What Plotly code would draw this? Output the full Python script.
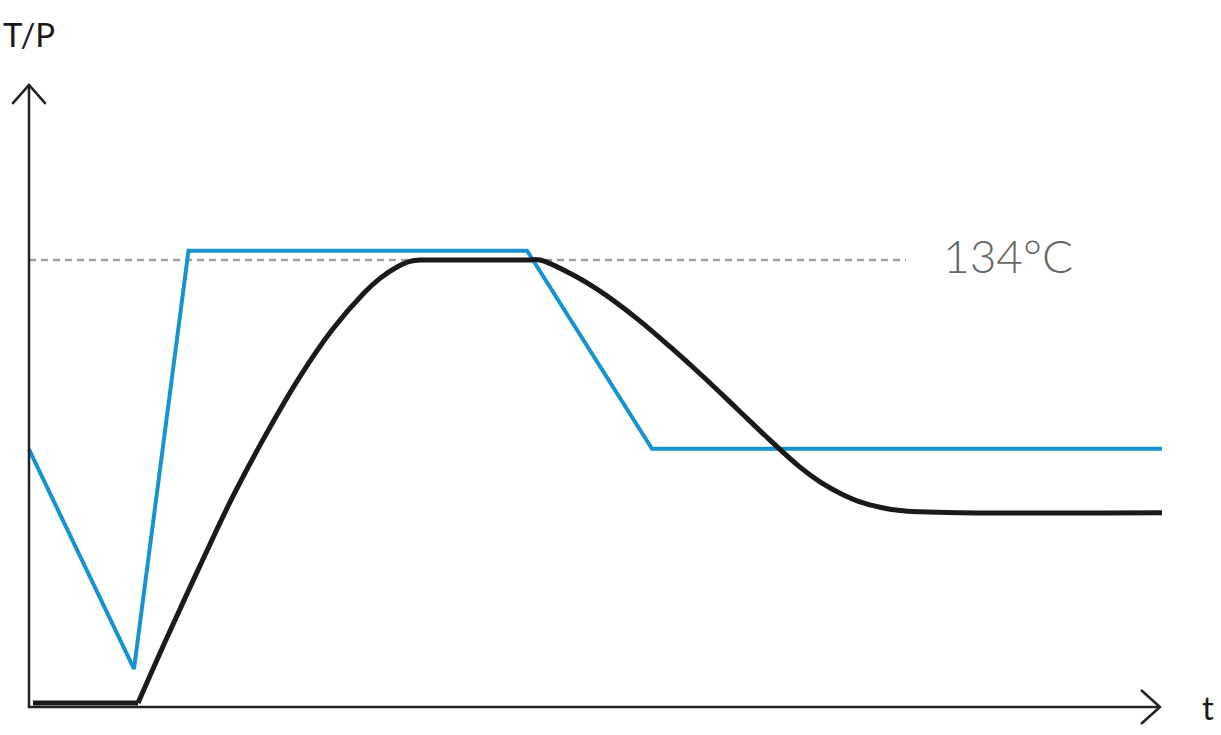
#!/usr/bin/env python3
"""Sterilisation cycle sketch: pressure (blue) and temperature (black) over time."""
import plotly.graph_objects as go

# time axis in arbitrary units, value axis scaled so the hold line sits at 134
PRESSURE_T = [0.0, 10.5, 15.95, 49.8, 62.3, 113.3]
PRESSURE_V = [77.2, 11.4, 136.8, 136.8, 77.4, 77.4]

# first two points are the flat start, the rest is one smooth curve
TEMP_T = [0.4, 10.9, 13.6, 17.0, 20.3, 23.6, 27.0, 30.3, 33.5, 35.1, 36.8, 38.1,
          39.3, 40.5, 49.9, 51.1, 54.1, 57.43, 60.77, 64.1, 67.43, 70.77, 74.1, 77.1,
          79.1, 81.1, 83.1, 85.1, 87.1, 89.1, 93.1, 113.3]
TEMP_V = [1.2, 1.2, 19.5, 41.7, 62.6, 81.2, 98.6, 113.0, 124.1, 128.5, 131.9, 133.6,
          134.0, 134.0, 134.0, 134.0, 130.0, 124.0, 116.5, 108.0, 99.0, 89.5, 80.0, 71.9,
          67.5, 64.1, 61.5, 59.9, 58.9, 58.5, 58.2, 58.2]

HOLD_TEMP = 134
HOLD_LABEL = "134°C"
HOLD_END = 87.7

X_TIP = 113.1
Y_TIP = 186.5

BLUE = "#1793cf"
INK = "#1a1a1a"
FONT = "Lato, 'Open Sans', sans-serif"

fig = go.Figure()

fig.add_trace(go.Scatter(
    x=[0, HOLD_END], y=[HOLD_TEMP, HOLD_TEMP], mode="lines",
    line={"color": "#a0a0a0", "width": 2.5, "dash": "7px,5px"},
    hoverinfo="skip",
))
fig.add_trace(go.Scatter(
    x=PRESSURE_T, y=PRESSURE_V, mode="lines", name="P",
    line={"color": BLUE, "width": 4},
))
fig.add_trace(go.Scatter(
    x=TEMP_T[:2], y=TEMP_V[:2], mode="lines", name="T",
    line={"color": INK, "width": 5},
))
fig.add_trace(go.Scatter(
    x=TEMP_T[1:], y=TEMP_V[1:], mode="lines", name="T",
    line={"color": INK, "width": 5, "shape": "spline", "smoothing": 1},
))

# axes with open chevron arrows
axis_line = {"color": "#222222", "width": 2.5}
fig.add_trace(go.Scatter(x=[0, 0, X_TIP], y=[Y_TIP, 0, 0], mode="lines",
                         line=axis_line, hoverinfo="skip"))
fig.add_trace(go.Scatter(x=[-1.67, 0, 1.67], y=[Y_TIP - 5.7, Y_TIP, Y_TIP - 5.7],
                         mode="lines", line=axis_line, hoverinfo="skip"))
fig.add_trace(go.Scatter(x=[X_TIP - 1.9, X_TIP, X_TIP - 1.9], y=[5.1, 0, -5.1],
                         mode="lines", line=axis_line, hoverinfo="skip"))

fig.add_annotation(x=0, y=1, xref="paper", yref="paper", xanchor="left", yanchor="top",
                   xshift=1, yshift=-12, text="T/P", showarrow=False,
                   font={"family": FONT, "size": 33, "color": INK})
fig.add_annotation(x=117.85, y=0, text="t", showarrow=False,
                   font={"family": FONT, "size": 33, "color": INK})
fig.add_annotation(x=91.2, y=HOLD_TEMP, text=HOLD_LABEL, showarrow=False,
                   xanchor="left", yshift=5,
                   font={"family": FONT, "size": 46, "color": "#666666", "weight": 300})

fig.update_layout(
    width=1221,
    height=735,
    margin={"l": 0, "r": 0, "t": 0, "b": 0},
    paper_bgcolor="white",
    plot_bgcolor="white",
    showlegend=False,
)
fig.update_xaxes(range=[-2.9, 119.2], visible=False, fixedrange=True)
fig.update_yaxes(range=[-8.39, 211.94], visible=False, fixedrange=True)

fig.write_html("out.html", config={"displayModeBar": False},
               post_script="document.body.style.margin = '0';")
